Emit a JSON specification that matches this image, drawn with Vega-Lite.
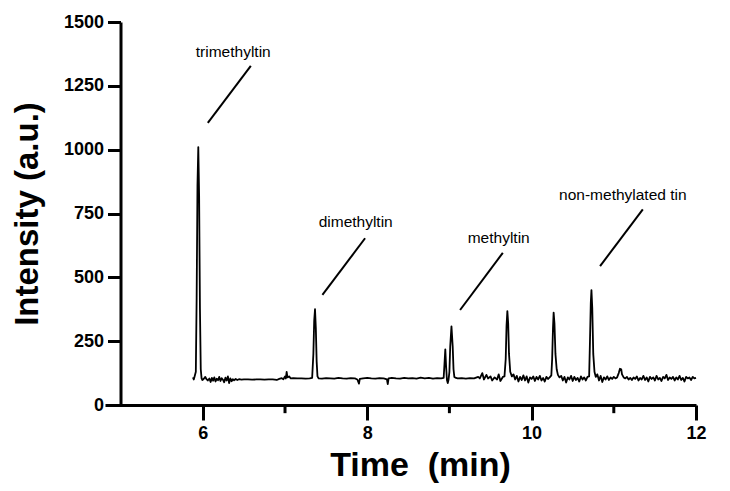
{
  "$schema": "https://vega.github.io/schema/vega-lite/v6.json",
  "width": 591,
  "height": 383,
  "autosize": {"type": "none"},
  "padding": {"left": 105, "top": 22, "right": 34, "bottom": 86},
  "background": "white",
  "config": {
    "view": {"stroke": null},
    "font": "Liberation Sans",
    "axis": {"grid": false, "domainColor": "black", "tickColor": "black", "labelColor": "black", "titleColor": "black", "labelFont": "Liberation Sans", "titleFont": "Liberation Sans"}
  },
  "datasets": {
    "trace": [
      {"t": 5.88, "v": 108}, {"t": 5.89, "v": 100}, {"t": 5.9, "v": 112}, {"t": 5.915, "v": 130}, {"t": 5.925, "v": 420}, {"t": 5.935, "v": 860}, {"t": 5.945, "v": 1010}, {"t": 5.955, "v": 820}, {"t": 5.965, "v": 380}, {"t": 5.975, "v": 140}, {"t": 5.985, "v": 104}, {"t": 5.995, "v": 98},
      {"t": 6.01, "v": 102}, {"t": 6.03, "v": 110}, {"t": 6.045, "v": 101}, {"t": 6.06, "v": 96}, {"t": 6.08, "v": 104}, {"t": 6.095, "v": 90}, {"t": 6.11, "v": 106}, {"t": 6.125, "v": 95}, {"t": 6.14, "v": 108}, {"t": 6.155, "v": 92}, {"t": 6.17, "v": 103}, {"t": 6.185, "v": 97}, {"t": 6.2, "v": 110}, {"t": 6.215, "v": 94}, {"t": 6.23, "v": 105}, {"t": 6.245, "v": 99}, {"t": 6.26, "v": 89}, {"t": 6.275, "v": 107}, {"t": 6.29, "v": 96}, {"t": 6.305, "v": 112}, {"t": 6.32, "v": 86}, {"t": 6.335, "v": 104}, {"t": 6.35, "v": 93}, {"t": 6.365, "v": 101}, {"t": 6.38, "v": 97}, {"t": 6.4, "v": 102}, {"t": 6.42, "v": 98}, {"t": 6.44, "v": 101}, {"t": 6.47, "v": 99},
      {"t": 6.5, "v": 100}, {"t": 6.55, "v": 100}, {"t": 6.6, "v": 99}, {"t": 6.65, "v": 100}, {"t": 6.7, "v": 100}, {"t": 6.75, "v": 99}, {"t": 6.8, "v": 100}, {"t": 6.85, "v": 100}, {"t": 6.9, "v": 98}, {"t": 6.93, "v": 102}, {"t": 6.96, "v": 105}, {"t": 6.98, "v": 101}, {"t": 7.0, "v": 112}, {"t": 7.01, "v": 104}, {"t": 7.02, "v": 130}, {"t": 7.03, "v": 108}, {"t": 7.05, "v": 112}, {"t": 7.07, "v": 104},
      {"t": 7.1, "v": 105}, {"t": 7.15, "v": 104}, {"t": 7.2, "v": 104}, {"t": 7.25, "v": 103}, {"t": 7.3, "v": 104}, {"t": 7.33, "v": 106}, {"t": 7.345, "v": 200}, {"t": 7.355, "v": 330}, {"t": 7.365, "v": 375}, {"t": 7.375, "v": 300}, {"t": 7.385, "v": 170}, {"t": 7.395, "v": 112}, {"t": 7.41, "v": 104},
      {"t": 7.45, "v": 103}, {"t": 7.5, "v": 105}, {"t": 7.55, "v": 104}, {"t": 7.6, "v": 103}, {"t": 7.65, "v": 106}, {"t": 7.7, "v": 104}, {"t": 7.75, "v": 103}, {"t": 7.8, "v": 105}, {"t": 7.85, "v": 104}, {"t": 7.88, "v": 100}, {"t": 7.9, "v": 84}, {"t": 7.91, "v": 102}, {"t": 7.95, "v": 104}, {"t": 8.0, "v": 106}, {"t": 8.05, "v": 104}, {"t": 8.1, "v": 103}, {"t": 8.15, "v": 105}, {"t": 8.2, "v": 104}, {"t": 8.24, "v": 100}, {"t": 8.25, "v": 82}, {"t": 8.26, "v": 104}, {"t": 8.3, "v": 106}, {"t": 8.35, "v": 104}, {"t": 8.4, "v": 103}, {"t": 8.45, "v": 106}, {"t": 8.5, "v": 104}, {"t": 8.55, "v": 105}, {"t": 8.6, "v": 103}, {"t": 8.65, "v": 107}, {"t": 8.7, "v": 104}, {"t": 8.75, "v": 106}, {"t": 8.8, "v": 103}, {"t": 8.85, "v": 105}, {"t": 8.9, "v": 104}, {"t": 8.93, "v": 106},
      {"t": 8.94, "v": 160}, {"t": 8.95, "v": 218}, {"t": 8.96, "v": 150}, {"t": 8.97, "v": 98}, {"t": 8.98, "v": 86}, {"t": 8.99, "v": 100}, {"t": 9.0, "v": 130}, {"t": 9.01, "v": 230}, {"t": 9.025, "v": 308}, {"t": 9.04, "v": 230}, {"t": 9.05, "v": 140}, {"t": 9.06, "v": 110}, {"t": 9.08, "v": 106},
      {"t": 9.1, "v": 104}, {"t": 9.15, "v": 105}, {"t": 9.2, "v": 103}, {"t": 9.25, "v": 105}, {"t": 9.3, "v": 104}, {"t": 9.35, "v": 110}, {"t": 9.37, "v": 104}, {"t": 9.4, "v": 125}, {"t": 9.42, "v": 100}, {"t": 9.45, "v": 118}, {"t": 9.47, "v": 104}, {"t": 9.5, "v": 112}, {"t": 9.52, "v": 96}, {"t": 9.55, "v": 108}, {"t": 9.58, "v": 100}, {"t": 9.6, "v": 120}, {"t": 9.62, "v": 94}, {"t": 9.65, "v": 110}, {"t": 9.67, "v": 112},
      {"t": 9.685, "v": 180}, {"t": 9.695, "v": 310}, {"t": 9.705, "v": 368}, {"t": 9.715, "v": 320}, {"t": 9.725, "v": 200}, {"t": 9.74, "v": 130}, {"t": 9.76, "v": 112}, {"t": 9.78, "v": 120}, {"t": 9.8, "v": 100}, {"t": 9.82, "v": 114}, {"t": 9.84, "v": 92}, {"t": 9.86, "v": 110}, {"t": 9.88, "v": 98}, {"t": 9.9, "v": 116}, {"t": 9.92, "v": 96}, {"t": 9.94, "v": 112}, {"t": 9.96, "v": 88}, {"t": 9.98, "v": 108},
      {"t": 10.0, "v": 102}, {"t": 10.02, "v": 112}, {"t": 10.04, "v": 94}, {"t": 10.06, "v": 110}, {"t": 10.08, "v": 100}, {"t": 10.1, "v": 114}, {"t": 10.12, "v": 96}, {"t": 10.14, "v": 106}, {"t": 10.16, "v": 92}, {"t": 10.18, "v": 110}, {"t": 10.2, "v": 102}, {"t": 10.22, "v": 108}, {"t": 10.24, "v": 116},
      {"t": 10.25, "v": 180}, {"t": 10.26, "v": 300}, {"t": 10.268, "v": 362}, {"t": 10.278, "v": 320}, {"t": 10.29, "v": 200}, {"t": 10.305, "v": 140}, {"t": 10.32, "v": 118}, {"t": 10.34, "v": 108}, {"t": 10.36, "v": 114}, {"t": 10.38, "v": 96}, {"t": 10.4, "v": 110}, {"t": 10.42, "v": 88}, {"t": 10.44, "v": 108}, {"t": 10.46, "v": 100}, {"t": 10.48, "v": 114}, {"t": 10.5, "v": 94}, {"t": 10.52, "v": 110}, {"t": 10.54, "v": 98}, {"t": 10.56, "v": 106}, {"t": 10.58, "v": 92}, {"t": 10.6, "v": 112}, {"t": 10.62, "v": 100}, {"t": 10.64, "v": 108}, {"t": 10.66, "v": 96}, {"t": 10.68, "v": 110}, {"t": 10.7, "v": 112},
      {"t": 10.71, "v": 250}, {"t": 10.72, "v": 400}, {"t": 10.728, "v": 450}, {"t": 10.738, "v": 380}, {"t": 10.75, "v": 200}, {"t": 10.765, "v": 130}, {"t": 10.78, "v": 110}, {"t": 10.8, "v": 120}, {"t": 10.82, "v": 96}, {"t": 10.84, "v": 114}, {"t": 10.86, "v": 90}, {"t": 10.88, "v": 108}, {"t": 10.9, "v": 100}, {"t": 10.92, "v": 112}, {"t": 10.94, "v": 98}, {"t": 10.96, "v": 108}, {"t": 10.98, "v": 102},
      {"t": 11.0, "v": 110}, {"t": 11.02, "v": 104}, {"t": 11.04, "v": 108}, {"t": 11.06, "v": 125}, {"t": 11.075, "v": 142}, {"t": 11.09, "v": 140}, {"t": 11.1, "v": 120}, {"t": 11.12, "v": 108}, {"t": 11.14, "v": 104}, {"t": 11.16, "v": 110}, {"t": 11.18, "v": 100}, {"t": 11.2, "v": 106}, {"t": 11.22, "v": 98}, {"t": 11.24, "v": 108}, {"t": 11.26, "v": 102}, {"t": 11.28, "v": 112}, {"t": 11.3, "v": 96}, {"t": 11.32, "v": 106}, {"t": 11.34, "v": 100}, {"t": 11.36, "v": 114}, {"t": 11.38, "v": 98}, {"t": 11.4, "v": 108}, {"t": 11.42, "v": 92}, {"t": 11.44, "v": 110}, {"t": 11.46, "v": 102}, {"t": 11.48, "v": 108},
      {"t": 11.5, "v": 96}, {"t": 11.52, "v": 114}, {"t": 11.54, "v": 100}, {"t": 11.56, "v": 106}, {"t": 11.58, "v": 94}, {"t": 11.6, "v": 110}, {"t": 11.62, "v": 104}, {"t": 11.64, "v": 118}, {"t": 11.66, "v": 98}, {"t": 11.68, "v": 108}, {"t": 11.7, "v": 102}, {"t": 11.72, "v": 110}, {"t": 11.74, "v": 96}, {"t": 11.76, "v": 108}, {"t": 11.78, "v": 100}, {"t": 11.8, "v": 114}, {"t": 11.82, "v": 98}, {"t": 11.84, "v": 106}, {"t": 11.86, "v": 92}, {"t": 11.88, "v": 110}, {"t": 11.9, "v": 104}, {"t": 11.92, "v": 108}, {"t": 11.94, "v": 98}, {"t": 11.96, "v": 110}, {"t": 11.98, "v": 104}, {"t": 12.0, "v": 106}
    ],
    "labels": [
      {"label": "trimethyltin", "tx": 6.37, "ty": 1383, "x1": 6.061, "y1": 1105, "x2": 6.584, "y2": 1328},
      {"label": "dimethyltin", "tx": 7.86, "ty": 718, "x1": 7.455, "y1": 431, "x2": 7.974, "y2": 653},
      {"label": "methyltin", "tx": 9.6, "ty": 653, "x1": 9.13, "y1": 372, "x2": 9.65, "y2": 596},
      {"label": "non-methylated tin", "tx": 11.11, "ty": 822, "x1": 10.833, "y1": 544, "x2": 11.353, "y2": 766}
    ],
    "minor": [{"m": 7}, {"m": 9}, {"m": 11}]
  },
  "layer": [
    {
      "data": {"name": "trace"},
      "mark": {"type": "line", "color": "black", "strokeWidth": 1.8, "strokeJoin": "round"},
      "encoding": {
        "x": {"field": "t", "type": "quantitative", "scale": {"domain": [4.81, 12], "nice": false, "zero": false},
          "axis": {"values": [6, 8, 10, 12], "format": "d", "tickSize": 15, "tickWidth": 3, "domainWidth": 3, "labelFontSize": 18, "labelFontWeight": "bold", "labelPadding": 4, "labelFlush": false, "title": "Time\u00a0 (min)", "titleFontSize": 34, "titleFontWeight": "bold", "titlePadding": 6, "titleX": 315}},
        "y": {"field": "v", "type": "quantitative", "scale": {"domain": [0, 1500], "nice": false},
          "axis": {"values": [0, 250, 500, 750, 1000, 1250, 1500], "format": "d", "offset": -15.5, "tickSize": 13, "tickWidth": 3, "domainWidth": 3, "labelFontSize": 18, "labelFontWeight": "bold", "labelPadding": 4, "labelFlush": false, "title": "Intensity (a.u.)", "titleFontSize": 33, "titleFontWeight": "bold", "titlePadding": 19}}
      }
    },
    {
      "data": {"name": "minor"},
      "mark": {"type": "rule", "color": "black", "strokeWidth": 3, "clip": false},
      "encoding": {
        "x": {"field": "m", "type": "quantitative"},
        "y": {"datum": 0},
        "y2": {"datum": -32}
      }
    },
    {
      "data": {"name": "labels"},
      "mark": {"type": "rule", "color": "black", "strokeWidth": 2},
      "encoding": {
        "x": {"field": "x1", "type": "quantitative"},
        "y": {"field": "y1", "type": "quantitative"},
        "x2": {"field": "x2"},
        "y2": {"field": "y2"}
      }
    },
    {
      "data": {"name": "labels"},
      "mark": {"type": "text", "fontSize": 15.5, "color": "black", "font": "Liberation Sans"},
      "encoding": {
        "x": {"field": "tx", "type": "quantitative"},
        "y": {"field": "ty", "type": "quantitative"},
        "text": {"field": "label"}
      }
    }
  ]
}
